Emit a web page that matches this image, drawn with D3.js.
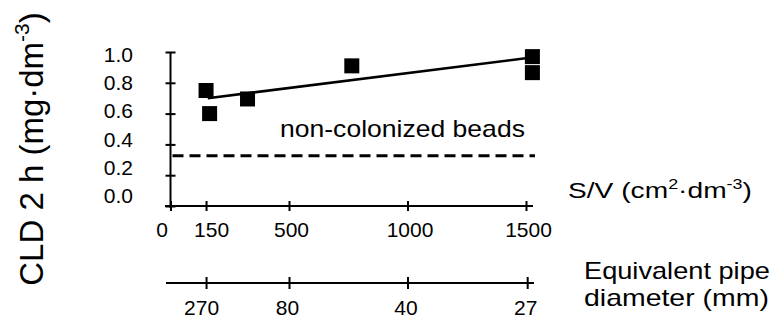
<!DOCTYPE html>
<html>
  <head>
    <meta charset="utf-8">
    <title>CLD vs S/V</title>
    <script src="https://d3js.org/d3.v7.min.js"></script>
    <style>
      body { margin: 0; background: #fff; }
      svg text { font-family: "Liberation Sans", Arial, sans-serif; fill: #000; }
    </style>
  </head>
  <body>
    <div id="chart"></div>

    <script type="text/javascript">
      // measured points
      var svValues  = [150, 165, 325, 765, 1527, 1527];
      var cldValues = [0.75, 0.60, 0.695, 0.91, 0.97, 0.866];

      // fitted line end points
      var fitSV  = [157, 1532];
      var fitCLD = [0.70, 0.966];

      // non-colonized beads level
      var beadLevel = 0.327;

      var yTicks = [0, 0.2, 0.4, 0.6, 0.8, 1.0];
      var svTicks = [0, 150, 500, 1000, 1500];
      var pipeTickAt = [150, 500, 1000, 1505];
      var pipeLabels = ["270", "80", "40", "27"];

      var width = 774,
          height = 320;

      var svg = d3.select('#chart').append('svg')
          .attr('width', width)
          .attr('height', height);

      var x = d3.scaleLinear().domain([0, 1500]).range([170.5, 526]);
      var y = d3.scaleLinear().domain([0, 1]).range([206, 52]);
      // the tick labels sit on a slightly tighter spacing than the ticks
      var yLab = d3.scaleLinear().domain([0, 1]).range([196, 54.5]);

      // stretch text horizontally to a measured width
      function fitText(sel, w) {
        var bw = sel.node().getBBox().width;
        var tx = +sel.attr('data-x'), ty = +sel.attr('data-y');
        sel.attr('transform', 'translate(' + tx + ',' + ty + ') scale(' + (w / bw) + ',1)');
      }

      // y axis
      var yAxis = svg.append('g')
          .attr('transform', 'translate(' + x(0) + ',0)')
          .call(d3.axisLeft(y).tickValues(yTicks).tickSize(5).tickFormat(''));
      yAxis.select('.domain').remove();
      yAxis.selectAll('.tick line').attr('x1', -5).attr('x2', 5)
          .attr('stroke', '#000').attr('stroke-width', 2);
      svg.append('line')
          .attr('x1', x(0)).attr('x2', x(0))
          .attr('y1', y(1)).attr('y2', y(0) + 2)
          .attr('stroke', '#000').attr('stroke-width', 2);

      var yLabels = svg.append('g')
          .attr('transform', 'translate(133,0)')
          .call(d3.axisLeft(yLab).tickValues(yTicks).tickSize(0).tickPadding(0).tickFormat(d3.format('.1f')));
      yLabels.select('.domain').remove();
      yLabels.selectAll('text').attr('font-size', 21).attr('font-family', null);

      // S/V axis
      var xAxis = svg.append('g')
          .attr('transform', 'translate(0,' + y(0) + ')')
          .call(d3.axisBottom(x).tickValues(svTicks).tickSize(5).tickPadding(0).tickFormat(d3.format('d')));
      xAxis.select('.domain').remove();
      xAxis.selectAll('.tick line').attr('y1', -5).attr('y2', 5)
          .attr('stroke', '#000').attr('stroke-width', 2);
      xAxis.selectAll('text').attr('font-size', 21).attr('font-family', null)
          .attr('y', 31).attr('dy', 0)
          .attr('dx', function(d) { return d === 0 ? -9 : (d === 150 ? 5 : 2); });
      svg.append('line')
          .attr('x1', 165).attr('x2', 533)
          .attr('y1', y(0)).attr('y2', y(0))
          .attr('stroke', '#000').attr('stroke-width', 2);

      // pipe diameter axis
      var pAxisY = 283;
      var pAxis = svg.append('g')
          .attr('transform', 'translate(0,' + pAxisY + ')')
          .call(d3.axisBottom(x).tickValues(pipeTickAt).tickSize(6).tickPadding(0)
                .tickFormat(function(d, i) { return pipeLabels[i]; }));
      pAxis.select('.domain').remove();
      pAxis.selectAll('.tick line').attr('y1', -6).attr('y2', 6)
          .attr('stroke', '#000').attr('stroke-width', 2);
      pAxis.selectAll('text').attr('font-size', 21).attr('font-family', null)
          .attr('y', 32).attr('dy', 0)
          .attr('dx', function(d, i) { return i === 0 ? -5 : -2; });
      svg.append('line')
          .attr('x1', 166).attr('x2', 534)
          .attr('y1', pAxisY).attr('y2', pAxisY)
          .attr('stroke', '#000').attr('stroke-width', 2);

      // dashed level
      svg.append('line')
          .attr('x1', x(0) + 2).attr('x2', 535)
          .attr('y1', y(beadLevel)).attr('y2', y(beadLevel))
          .attr('stroke', '#000').attr('stroke-width', 3)
          .attr('stroke-dasharray', '11,6');

      // fit line
      svg.append('line')
          .attr('x1', x(fitSV[0])).attr('y1', y(fitCLD[0]))
          .attr('x2', x(fitSV[1])).attr('y2', y(fitCLD[1]))
          .attr('stroke', '#000').attr('stroke-width', 2.5);

      // points
      var sq = 15;
      svg.append('g').selectAll('rect')
          .data(svValues)
          .enter().append('rect')
          .attr('x', function(d) { return x(d) - sq / 2; })
          .attr('y', function(d, i) { return y(cldValues[i]) - sq / 2; })
          .attr('width', sq).attr('height', sq)
          .attr('fill', '#000');

      // labels
      var beads = svg.append('text')
          .attr('data-x', 280).attr('data-y', 137)
          .attr('font-size', 23)
          .text('non-colonized beads');
      fitText(beads, 245);

      var sv = svg.append('text')
          .attr('data-x', 568).attr('data-y', 198)
          .attr('font-size', 22);
      sv.append('tspan').text('S/V (cm');
      sv.append('tspan').attr('font-size', 14).attr('dy', -9).text('2');
      sv.append('tspan').attr('dy', 9).text('\u00b7dm');
      sv.append('tspan').attr('font-size', 14).attr('dy', -9).text('-3');
      sv.append('tspan').attr('dy', 9).text(')');
      fitText(sv, 184);

      var eq1 = svg.append('text')
          .attr('data-x', 584).attr('data-y', 279)
          .attr('font-size', 23)
          .text('Equivalent pipe');
      fitText(eq1, 186);
      var eq2 = svg.append('text')
          .attr('data-x', 584).attr('data-y', 306)
          .attr('font-size', 23)
          .text('diameter (mm)');
      fitText(eq2, 185);

      var yt = svg.append('text')
          .attr('transform', 'translate(43,149) rotate(-90)')
          .attr('text-anchor', 'middle')
          .attr('font-size', 33);
      yt.append('tspan').text('CLD 2 h (mg\u00b7dm');
      yt.append('tspan').attr('font-size', 21).attr('dy', -14).text('-3');
      yt.append('tspan').attr('dy', 14).text(')');
    </script>
  </body>
</html>
